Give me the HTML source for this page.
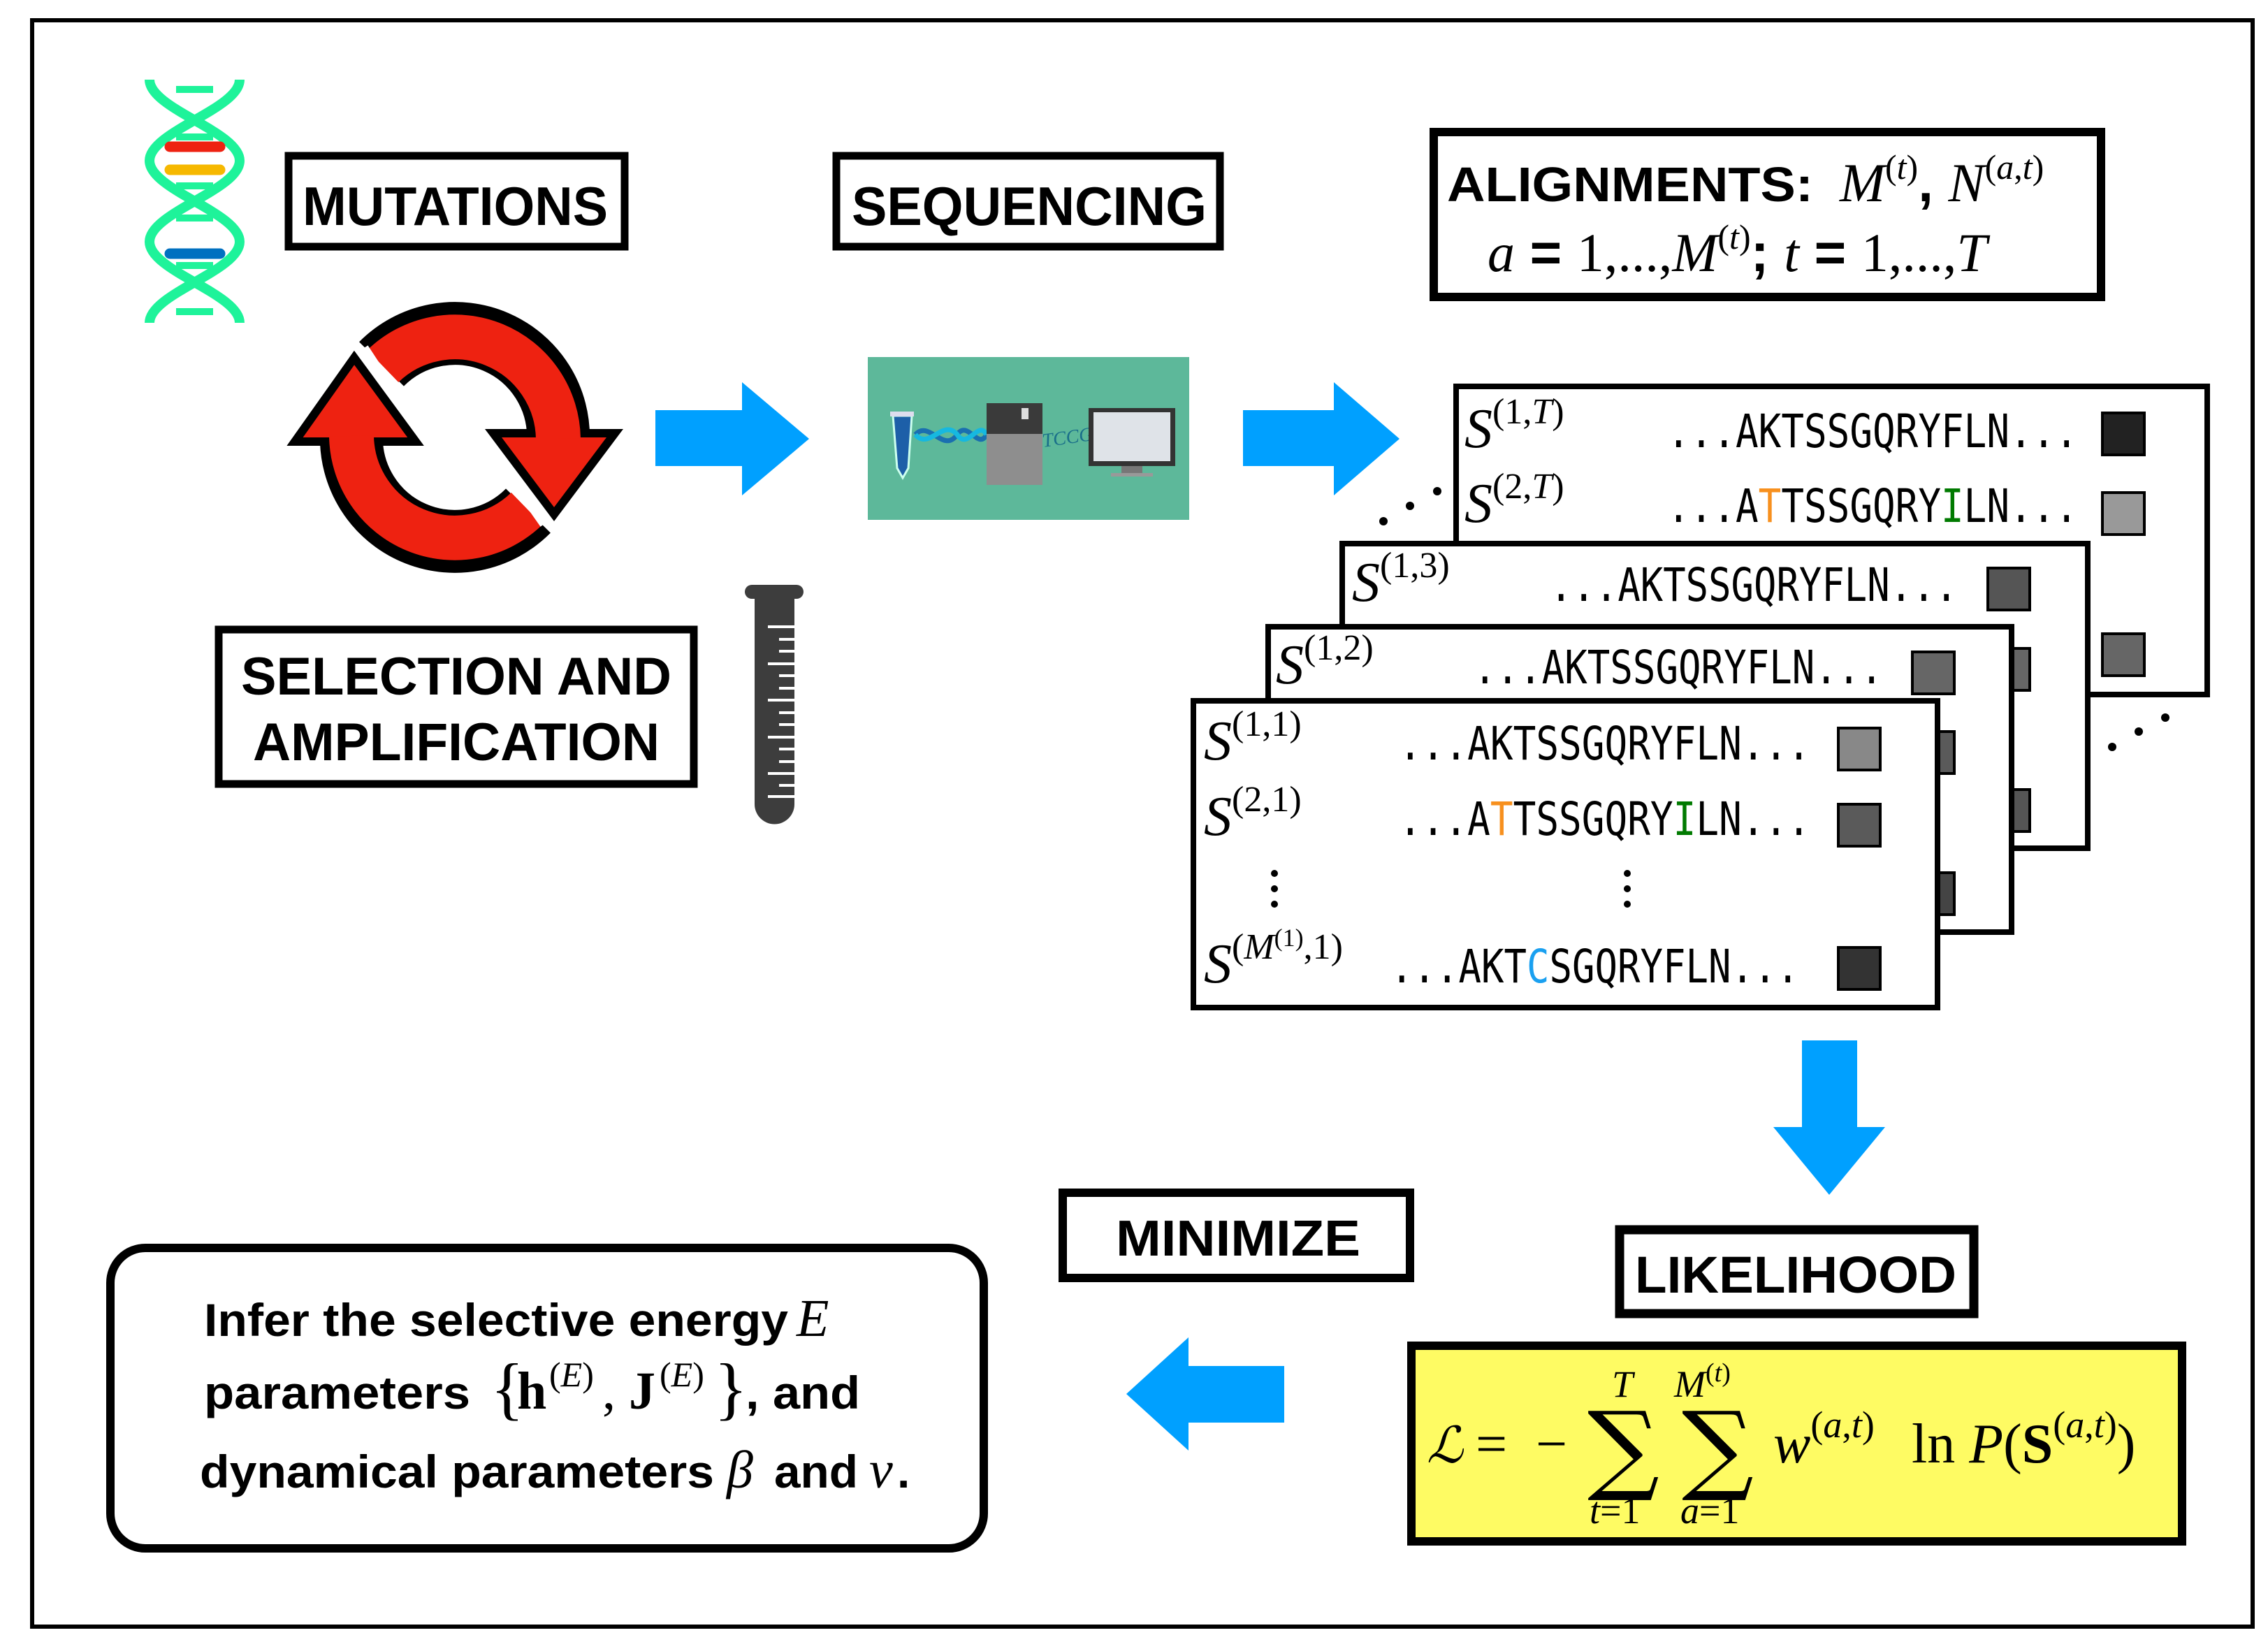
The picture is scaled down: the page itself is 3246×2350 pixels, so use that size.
<!DOCTYPE html>
<html><head><meta charset="utf-8"><style>
html,body{margin:0;padding:0;background:#fff}
svg{display:block}
.b{font-family:"Liberation Sans",sans-serif;font-weight:bold}
.s{font-family:"Liberation Serif",serif}
.i{font-style:italic}
.m{font-family:"DejaVu Sans Mono","Liberation Mono",monospace}
</style></head><body>
<svg width="3246" height="2350" viewBox="0 0 3246 2350" xmlns="http://www.w3.org/2000/svg">
<rect x="0" y="0" width="3246" height="2350" fill="#fff"/>
<rect x="46" y="29" width="3178" height="2299" fill="none" stroke="#000" stroke-width="6"/>

<!-- DNA -->
<g fill="none" stroke="#1ef39a" stroke-width="14">
<path d="M214,114 C214,156 343,188 343,230 C343,272 214,304 214,346 C214,388 343,420 343,462"/>
<path d="M343,114 C343,156 214,188 214,230 C214,272 343,304 343,346 C343,388 214,420 214,462"/>
<line x1="214" y1="114" x2="343" y2="114" stroke-width="0"/>
<line x1="252" y1="128" x2="305" y2="128" stroke-width="10"/>
<line x1="252" y1="196" x2="305" y2="196" stroke-width="10"/>
<line x1="252" y1="266" x2="305" y2="266" stroke-width="10"/>
<line x1="252" y1="312" x2="305" y2="312" stroke-width="10"/>
<line x1="252" y1="380" x2="305" y2="380" stroke-width="10"/>
<line x1="252" y1="446" x2="305" y2="446" stroke-width="10"/>
</g>
<g stroke-linecap="round" stroke-width="15">
<line x1="243" y1="210" x2="315" y2="210" stroke="#ee2211"/>
<line x1="243" y1="243" x2="315" y2="243" stroke="#f6b800"/>
<line x1="243" y1="363" x2="315" y2="363" stroke="#0070c0"/>
</g>

<!-- boxes -->
<rect x="413" y="223" width="481" height="130" fill="#fff" stroke="#000" stroke-width="11"/>
<text x="433" y="322" class="b" font-size="78" textLength="437" lengthAdjust="spacingAndGlyphs">MUTATIONS</text>
<rect x="1197" y="223" width="549" height="130" fill="#fff" stroke="#000" stroke-width="11"/>
<text x="1219" y="322" class="b" font-size="78" textLength="508" lengthAdjust="spacingAndGlyphs">SEQUENCING</text>

<rect x="2052" y="189" width="955" height="236" fill="#fff" stroke="#000" stroke-width="12"/>
<text x="2071" y="288" class="b" font-size="70" textLength="524" lengthAdjust="spacingAndGlyphs">ALIGNMENTS:</text>
<text x="2633" y="288" class="s" font-size="78"><tspan class="i">M</tspan><tspan font-size="50" dy="-32">(</tspan><tspan font-size="50" class="i">t</tspan><tspan font-size="50">)</tspan><tspan class="b" dy="32" font-family="Liberation Sans">, </tspan><tspan class="i">N</tspan><tspan font-size="50" dy="-32">(</tspan><tspan font-size="50" class="i">a</tspan><tspan font-size="50">,</tspan><tspan font-size="50" class="i">t</tspan><tspan font-size="50">)</tspan></text>
<text x="2129" y="388" class="s" font-size="78"><tspan class="i">a</tspan><tspan class="b" font-family="Liberation Sans"> = </tspan><tspan>1,...,</tspan><tspan class="i">M</tspan><tspan font-size="50" dy="-32">(</tspan><tspan font-size="50" class="i">t</tspan><tspan font-size="50">)</tspan><tspan dy="32" class="b" font-family="Liberation Sans">; </tspan><tspan class="i">t</tspan><tspan class="b" font-family="Liberation Sans"> = </tspan><tspan>1,...,</tspan><tspan class="i">T</tspan></text>

<!-- cycle arrows -->
<g fill="none" stroke-linecap="butt">
<path d="M546,521 A148,148 0 0 1 799,631" stroke="#000" stroke-width="90"/>
<path d="M756,731 A148,148 0 0 1 503,621" stroke="#000" stroke-width="90"/>
</g>
<polygon points="706,620 880,620 793,736" fill="#ee2211" stroke="#000" stroke-width="12" stroke-linejoin="miter"/>
<polygon points="422,632 595,632 507,512" fill="#ee2211" stroke="#000" stroke-width="12" stroke-linejoin="miter"/>
<g fill="none" stroke="#ee2211" stroke-width="64">
<path d="M548,524 A148,148 0 0 1 799,628"/>
<path d="M754,728 A148,148 0 0 1 503,624"/>
</g>
<line x1="524" y1="496" x2="566" y2="560" stroke="#fff" stroke-width="6"/>
<line x1="735" y1="694" x2="776" y2="752" stroke="#fff" stroke-width="6"/>

<!-- selection box -->
<rect x="313" y="901" width="680" height="221" fill="#fff" stroke="#000" stroke-width="11"/>
<text x="345" y="994" class="b" font-size="76" textLength="616" lengthAdjust="spacingAndGlyphs">SELECTION AND</text>
<text x="362" y="1088" class="b" font-size="76" textLength="582" lengthAdjust="spacingAndGlyphs">AMPLIFICATION</text>

<!-- test tube -->
<rect x="1066" y="837" width="84" height="20" rx="10" fill="#3d3d3d"/>
<path d="M1080,850 L1137,850 L1137,1151 A28.5,28.5 0 0 1 1080,1151 Z" fill="#3d3d3d"/>
<g stroke="#fff" stroke-width="4">
<line x1="1099" y1="897" x2="1137" y2="897"/><line x1="1115" y1="915" x2="1137" y2="915"/>
<line x1="1115" y1="932" x2="1137" y2="932"/><line x1="1099" y1="950" x2="1137" y2="950"/>
<line x1="1115" y1="967" x2="1137" y2="967"/><line x1="1115" y1="985" x2="1137" y2="985"/>
<line x1="1099" y1="1002" x2="1137" y2="1002"/><line x1="1115" y1="1020" x2="1137" y2="1020"/>
<line x1="1115" y1="1037" x2="1137" y2="1037"/><line x1="1099" y1="1055" x2="1137" y2="1055"/>
<line x1="1115" y1="1072" x2="1137" y2="1072"/><line x1="1115" y1="1090" x2="1137" y2="1090"/>
<line x1="1099" y1="1107" x2="1137" y2="1107"/><line x1="1115" y1="1124" x2="1137" y2="1124"/>
<line x1="1099" y1="1140" x2="1137" y2="1140"/>
</g>

<!-- blue arrows -->
<g fill="#00a0ff">
<polygon points="938,587 1062,587 1062,547 1158,628 1062,709 1062,667 938,667"/>
<polygon points="1779,587 1909,587 1909,547 2003,628 1909,709 1909,667 1779,667"/>
<polygon points="2579,1489 2658,1489 2658,1613 2698,1613 2618,1710 2538,1613 2579,1613"/>
<polygon points="1838,1955 1701,1955 1701,1914 1612,1995 1701,2076 1701,2036 1838,2036"/>
</g>

<!-- sequencing image -->
<rect x="1242" y="511" width="460" height="233" fill="#5db89a"/>
<path d="M1278,595 L1305,595 L1300,670 L1292,684 L1284,670 Z" fill="#1d5fa8" stroke="#cfe" stroke-width="3"/>
<rect x="1274" y="589" width="34" height="7" fill="#dde"/>
<g fill="none" stroke="#1a6fb0" stroke-width="7">
<path d="M1310,622 C1330,600 1350,650 1370,622 C1385,600 1400,645 1412,622"/>
<path d="M1310,622 C1330,645 1350,598 1370,622 C1385,645 1400,600 1412,622" stroke="#16b8e0"/>
</g>
<rect x="1412" y="577" width="80" height="117" fill="#8e8e8e"/>
<rect x="1412" y="577" width="80" height="44" fill="#3a3a3a"/>
<rect x="1462" y="584" width="10" height="16" fill="#ddd"/>
<text x="1493" y="640" class="s i" font-size="28" fill="#1a6f8a" transform="rotate(-8 1493 640)">TCCGA</text>
<rect x="1558" y="584" width="124" height="83" fill="#333"/>
<rect x="1565" y="590" width="110" height="70" fill="#dfe3e8"/>
<rect x="1605" y="667" width="30" height="10" fill="#777"/>
<rect x="1590" y="677" width="60" height="5" fill="#999"/>

<!-- cards -->
<g class="m" font-size="66">
<!-- card T -->
<rect x="2084" y="553" width="1075" height="441" fill="#fff" stroke="#000" stroke-width="8"/>
<text x="2096" y="640" class="s" font-size="80"><tspan class="i">S</tspan><tspan font-size="52" dy="-34">(1,</tspan><tspan font-size="52" class="i">T</tspan><tspan font-size="52">)</tspan></text>
<text x="2386" y="640" textLength="588" lengthAdjust="spacingAndGlyphs">...AKTSSGQRYFLN...</text>
<rect x="3009" y="591" width="60" height="60" fill="#222" stroke="#000" stroke-width="4"/>
<text x="2096" y="747" class="s" font-size="80"><tspan class="i">S</tspan><tspan font-size="52" dy="-34">(2,</tspan><tspan font-size="52" class="i">T</tspan><tspan font-size="52">)</tspan></text>
<text x="2386" y="747" textLength="588" lengthAdjust="spacingAndGlyphs">...A<tspan fill="#f7901e">T</tspan>TSSGQRY<tspan fill="#007a00">I</tspan>LN...</text>
<rect x="3009" y="705" width="60" height="60" fill="#999" stroke="#000" stroke-width="4"/>
<rect x="3009" y="907" width="60" height="60" fill="#666" stroke="#000" stroke-width="4"/>
<!-- card 3 -->
<rect x="1921" y="778" width="1067" height="436" fill="#fff" stroke="#000" stroke-width="8"/>
<text x="1935" y="860" class="s" font-size="80"><tspan class="i">S</tspan><tspan font-size="52" dy="-34">(1,3)</tspan></text>
<text x="2218" y="860" textLength="584" lengthAdjust="spacingAndGlyphs">...AKTSSGQRYFLN...</text>
<rect x="2845" y="813" width="60" height="60" fill="#555" stroke="#000" stroke-width="4"/>
<rect x="2845" y="928" width="60" height="60" fill="#666" stroke="#000" stroke-width="4"/>
<rect x="2845" y="1130" width="60" height="60" fill="#555" stroke="#000" stroke-width="4"/>
<!-- card 2 -->
<rect x="1815" y="897" width="1064" height="437" fill="#fff" stroke="#000" stroke-width="8"/>
<text x="1826" y="978" class="s" font-size="80"><tspan class="i">S</tspan><tspan font-size="52" dy="-34">(1,2)</tspan></text>
<text x="2109" y="978" textLength="586" lengthAdjust="spacingAndGlyphs">...AKTSSGQRYFLN...</text>
<rect x="2737" y="933" width="60" height="60" fill="#666" stroke="#000" stroke-width="4"/>
<rect x="2737" y="1047" width="60" height="60" fill="#5a5a5a" stroke="#000" stroke-width="4"/>
<rect x="2737" y="1249" width="60" height="60" fill="#444" stroke="#000" stroke-width="4"/>
<!-- card 1 -->
<rect x="1708" y="1003" width="1065" height="439" fill="#fff" stroke="#000" stroke-width="8"/>
<text x="1723" y="1087" class="s" font-size="80"><tspan class="i">S</tspan><tspan font-size="52" dy="-34">(1,1)</tspan></text>
<text x="2002" y="1087" textLength="589" lengthAdjust="spacingAndGlyphs">...AKTSSGQRYFLN...</text>
<rect x="2631" y="1042" width="60" height="60" fill="#888" stroke="#000" stroke-width="4"/>
<text x="1723" y="1195" class="s" font-size="80"><tspan class="i">S</tspan><tspan font-size="52" dy="-34">(2,1)</tspan></text>
<text x="2002" y="1195" textLength="589" lengthAdjust="spacingAndGlyphs">...A<tspan fill="#f7901e">T</tspan>TSSGQRY<tspan fill="#007a00">I</tspan>LN...</text>
<rect x="2631" y="1151" width="60" height="60" fill="#5a5a5a" stroke="#000" stroke-width="4"/>
<text x="1723" y="1406" class="s" font-size="80"><tspan class="i">S</tspan><tspan font-size="52" dy="-34">(</tspan><tspan font-size="52" class="i">M</tspan><tspan font-size="36" dy="-18">(1)</tspan><tspan font-size="52" dy="18">,1)</tspan></text>
<text x="1990" y="1406" textLength="585" lengthAdjust="spacingAndGlyphs">...AKT<tspan fill="#1aa0f0">C</tspan>SGQRYFLN...</text>
<rect x="2631" y="1356" width="60" height="60" fill="#333" stroke="#000" stroke-width="4"/>
</g>
<g fill="#000">
<circle cx="1824" cy="1250" r="5"/><circle cx="1824" cy="1272" r="5"/><circle cx="1824" cy="1294" r="5"/>
<circle cx="2329" cy="1250" r="5"/><circle cx="2329" cy="1272" r="5"/><circle cx="2329" cy="1294" r="5"/>
<circle cx="1980" cy="746" r="6"/><circle cx="2018" cy="724" r="6"/><circle cx="2057" cy="703" r="6"/>
<circle cx="3023" cy="1069" r="6"/><circle cx="3061" cy="1047" r="6"/><circle cx="3099" cy="1027" r="6"/>
</g>

<!-- likelihood -->
<rect x="2318" y="1760" width="507" height="120" fill="#fff" stroke="#000" stroke-width="13"/>
<text x="2340" y="1850" class="b" font-size="74" textLength="460" lengthAdjust="spacingAndGlyphs">LIKELIHOOD</text>
<rect x="2020" y="1926" width="1103" height="280" fill="#fefb63" stroke="#000" stroke-width="12"/>
<g class="s" font-size="80">
<text x="2042" y="2093" class="i" font-family="DejaVu Serif" font-size="72">ℒ</text>
<text x="2112" y="2093">=</text>
<text x="2198" y="2093">−</text>
<text x="2272" y="2120" font-family="DejaVu Serif" font-size="140" textLength="103" lengthAdjust="spacingAndGlyphs">∑</text>
<text x="2407" y="2120" font-family="DejaVu Serif" font-size="140" textLength="103" lengthAdjust="spacingAndGlyphs">∑</text>
<text x="2307" y="1999" class="i" font-size="54">T</text>
<text x="2396" y="1999" font-size="54"><tspan class="i">M</tspan><tspan font-size="38" dy="-22">(</tspan><tspan font-size="38" class="i">t</tspan><tspan font-size="38">)</tspan></text>
<text x="2275" y="2180" font-size="54"><tspan class="i">t</tspan>=1</text>
<text x="2405" y="2180" font-size="54"><tspan class="i">a</tspan>=1</text>
<text x="2538" y="2093"><tspan class="i">w</tspan><tspan font-size="54" dy="-36">(</tspan><tspan font-size="54" class="i">a</tspan><tspan font-size="54">,</tspan><tspan font-size="54" class="i">t</tspan><tspan font-size="54">)</tspan></text>
<text x="2736" y="2093">ln <tspan class="i">P</tspan>(<tspan font-weight="bold">S</tspan><tspan font-size="54" dy="-36">(</tspan><tspan font-size="54" class="i">a</tspan><tspan font-size="54">,</tspan><tspan font-size="54" class="i">t</tspan><tspan font-size="54">)</tspan><tspan dy="36">)</tspan></text>
</g>

<!-- minimize -->
<rect x="1521" y="1707" width="497" height="122" fill="#fff" stroke="#000" stroke-width="12"/>
<text x="1597" y="1797" class="b" font-size="72" textLength="350" lengthAdjust="spacingAndGlyphs">MINIMIZE</text>

<!-- infer box -->
<rect x="158" y="1786" width="1250" height="430" rx="50" fill="#fff" stroke="#000" stroke-width="12"/>
<text x="292" y="1912" class="b" font-size="66" textLength="836" lengthAdjust="spacingAndGlyphs">Infer the selective energy</text>
<text x="1140" y="1912" class="s i" font-size="76">E</text>
<text x="292" y="2016" class="b" font-size="66" textLength="381" lengthAdjust="spacingAndGlyphs">parameters</text>
<text x="702" y="2020" class="s" font-size="100">{</text>
<text x="740" y="2016" class="s" font-size="76" font-weight="bold">h</text>
<text x="786" y="1984" class="s" font-size="50">(<tspan class="i">E</tspan>)</text>
<text x="862" y="2016" class="s" font-size="76">,</text>
<text x="900" y="2016" class="s" font-size="76" font-weight="bold">J</text>
<text x="944" y="1984" class="s" font-size="50">(<tspan class="i">E</tspan>)</text>
<text x="1022" y="2020" class="s" font-size="100">}</text>
<text x="1067" y="2016" class="b" font-size="66" textLength="164" lengthAdjust="spacingAndGlyphs">, and</text>
<text x="286" y="2129" class="b" font-size="66" textLength="736" lengthAdjust="spacingAndGlyphs">dynamical parameters</text>
<text x="1040" y="2129" class="s i" font-size="76">β</text>
<text x="1108" y="2129" class="b" font-size="66" textLength="120" lengthAdjust="spacingAndGlyphs">and</text>
<text x="1244" y="2129" class="s i" font-size="76">ν</text>
<text x="1284" y="2129" class="b" font-size="66">.</text>
</svg>
</body></html>
